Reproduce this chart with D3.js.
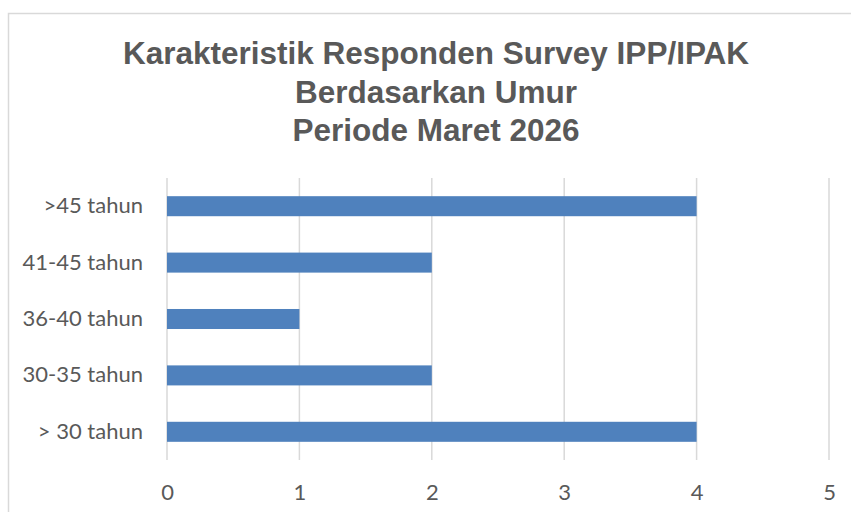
<!DOCTYPE html>
<html>
<head>
<meta charset="utf-8">
<script src="https://cdn.jsdelivr.net/npm/d3@7"></script>
<style>
  body { margin: 0; background: #fff; }
</style>
</head>
<body>
<script>
const categories = [">45 tahun", "41-45 tahun", "36-40 tahun", "30-35 tahun", "> 30 tahun"];
const values = [4, 2, 1, 2, 4];
const xTicks = [0, 1, 2, 3, 4, 5];
const titleLines = ["Karakteristik Responden Survey IPP/IPAK", "Berdasarkan Umur", "Periode Maret 2026"];

const W = 851, H = 512;
const margin = { top: 178, right: 22, bottom: 52, left: 167 };
const width = W - margin.left - margin.right;
const height = H - margin.top - margin.bottom;

const svg = d3.select("body").append("svg")
    .attr("width", W)
    .attr("height", H);

// chart border
svg.append("rect")
    .attr("x", 8.5)
    .attr("y", 13.5)
    .attr("width", 860)
    .attr("height", 520)
    .attr("fill", "none")
    .attr("stroke", "#d9d9d9")
    .attr("stroke-width", 1.5);

// title
svg.append("text")
    .attr("x", 436)
    .attr("y", 64)
    .attr("text-anchor", "middle")
    .attr("font-family", "'Liberation Sans', Arial, sans-serif")
    .attr("font-size", "31.5px")
    .attr("font-weight", "bold")
    .attr("fill", "#595959")
    .selectAll("tspan")
    .data(titleLines)
    .enter().append("tspan")
    .attr("x", 436)
    .attr("dy", function(d, i) { return i === 0 ? 0 : 38.5; })
    .text(function(d) { return d; });

const g = svg.append("g")
    .attr("transform", "translate(" + margin.left + "," + margin.top + ")");

const x = d3.scaleLinear()
    .domain([0, 5])
    .range([0, width]);

const y = d3.scaleBand()
    .domain(categories)
    .range([0, height])
    .paddingInner(0.645)
    .paddingOuter(0.3225);

// gridlines
g.selectAll(".grid")
    .data(xTicks)
    .enter().append("line")
    .attr("class", "grid")
    .attr("x1", function(d) { return x(d); })
    .attr("x2", function(d) { return x(d); })
    .attr("y1", 0)
    .attr("y2", height)
    .attr("stroke", "#d9d9d9")
    .attr("stroke-width", 1.5);

// bars
g.selectAll(".bar")
    .data(categories)
    .enter().append("rect")
    .attr("class", "bar")
    .attr("x", x(0))
    .attr("y", function(d) { return y(d); })
    .attr("width", function(d, i) { return x(values[i]) - x(0); })
    .attr("height", y.bandwidth())
    .attr("fill", "#4f81bd");

// x axis
const xAxis = g.append("g")
    .attr("transform", "translate(0," + height + ")")
    .call(d3.axisBottom(x).tickValues(xTicks).tickFormat(d3.format("d")).tickSize(0).tickPadding(24));
xAxis.select(".domain").remove();
xAxis.selectAll("text")
    .attr("font-family", "Lato, 'Open Sans', sans-serif")
    .attr("font-size", "22px")
    .attr("fill", "#595959");

// y axis
const yAxis = g.append("g")
    .call(d3.axisLeft(y).tickSize(0).tickPadding(24));
yAxis.select(".domain").remove();
yAxis.selectAll("text")
    .attr("font-family", "Lato, 'Open Sans', sans-serif")
    .attr("font-size", "22px")
    .attr("fill", "#595959");
</script>
</body>
</html>
